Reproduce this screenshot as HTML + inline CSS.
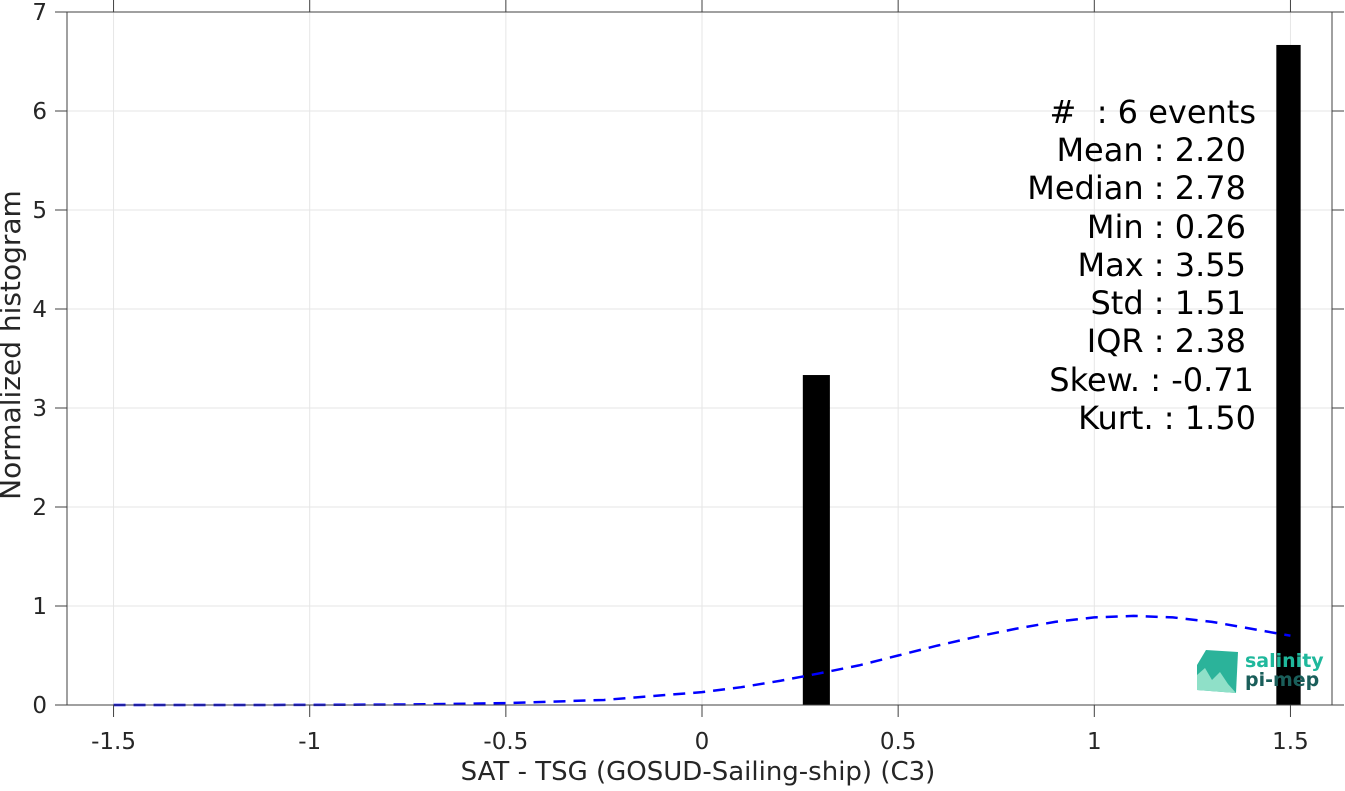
<!DOCTYPE html>
<html><head><meta charset="utf-8"><style>
body{margin:0;background:#fff;font-family:"DejaVu Sans","Liberation Sans",sans-serif}
</style></head><body>
<svg width="1345" height="787" xmlns="http://www.w3.org/2000/svg">
<g id="grid"></g>
<g id="bars"></g>
<g id="curve"></g>
<g id="axes"></g>
<g font-size="32" fill="#000" text-anchor="end">
<text x="1256" y="123">#&#160;&#160;: 6 events</text>
<text x="1246" y="161">Mean : 2.20</text>
<text x="1246" y="199">Median : 2.78</text>
<text x="1246" y="238">Min : 0.26</text>
<text x="1246" y="276">Max : 3.55</text>
<text x="1246" y="314">Std : 1.51</text>
<text x="1246" y="352">IQR : 2.38</text>
<text x="1254" y="391">Skew. : -0.71</text>
<text x="1256" y="429">Kurt. : 1.50</text>
</g>
<g>
<polygon points="1197,665 1206,650 1238,652 1236,693 1197,690" fill="#2bb39a"/>
<polygon points="1197,675 1205,668 1212,680 1220,672 1228,684 1236,693 1197,690" fill="#8fe0c8"/>
<text x="1245" y="667" font-size="19" font-weight="bold" fill="#1fb89c">salinity</text>
<text x="1245" y="686" font-size="19" font-weight="bold" fill="#1a5e5a">pi-mep</text>
</g>
<text x="698" y="780" font-size="26" fill="#262626" text-anchor="middle">SAT - TSG (GOSUD-Sailing-ship) (C3)</text>
<text transform="translate(20,345) rotate(-90)" font-size="28" fill="#262626" text-anchor="middle">Normalized histogram</text>
</svg>
<script>
const xTicks=[-1.5,-1,-0.5,0,0.5,1,1.5];
const xTickLabels=["-1.5","-1","-0.5","0","0.5","1","1.5"];
const yTicks=[0,1,2,3,4,5,6,7];
const barLeft=[0.257,1.464];
const barRight=[0.326,1.526];
const barHeight=[3.333,6.667];
const curveX=[-1.5,-1.25,-1,-0.75,-0.5,-0.25,0,0.1,0.2,0.3,0.4,0.5,0.6,0.7,0.8,0.9,1,1.1,1.2,1.3,1.4,1.5];
const curveY=[0.0,0.0,0.001,0.005,0.019,0.051,0.13,0.18,0.245,0.32,0.4,0.5,0.6,0.69,0.77,0.84,0.885,0.9,0.885,0.84,0.77,0.70];
const L=67,R=1332,T=12,B=705;
const X=v=>702+v*392.3;
const Y=v=>B-v*(B-T)/7;
const NS="http://www.w3.org/2000/svg";
function mk(p,t,a){const e=document.createElementNS(NS,t);for(const k in a)e.setAttribute(k,a[k]);p.appendChild(e);return e;}
const grid=document.getElementById('grid'),axes=document.getElementById('axes');
xTicks.forEach((v,i)=>{
 const g=mk(grid,'line',{x1:X(v),x2:X(v),y1:T,y2:B,stroke:'#e6e6e6'});
 
 
 const t=mk(axes,'line',{x1:X(v),x2:X(v),y1:B,y2:B+12,stroke:'#404040'});
 
 
 const tt=mk(axes,'line',{x1:X(v),x2:X(v),y1:T,y2:T-12,stroke:'#404040'});
 
 
 const l=mk(axes,'text',{x:X(v),y:B+44,'font-size':23,fill:'#262626','text-anchor':'middle'});
 l.textContent=xTickLabels[i];
 
 
});
yTicks.forEach(v=>{
 const g=mk(grid,'line',{x1:L,x2:R,y1:Y(v),y2:Y(v),stroke:'#e6e6e6'});
 
 
 const t=mk(axes,'line',{x1:L-12,x2:L,y1:Y(v),y2:Y(v),stroke:'#404040'});
 
 
 const tr=mk(axes,'line',{x1:R,x2:R+12,y1:Y(v),y2:Y(v),stroke:'#404040'});
 
 
 const l=mk(axes,'text',{x:L-20,y:Y(v)+8,'font-size':23,fill:'#262626','text-anchor':'end'});
 l.textContent=String(v);
 
 
});
const box=mk(axes,'rect',{x:L,y:T,width:R-L,height:B-T,fill:'none',stroke:'#404040'});


const bars=document.getElementById('bars');
barLeft.forEach((v,i)=>{
 const r=mk(bars,'rect',{x:X(v),y:Y(barHeight[i]),width:X(barRight[i])-X(v),height:B-Y(barHeight[i]),fill:'#000'});
 
 
});
const p=mk(document.getElementById('curve'),'polyline',{points:curveX.map((v,i)=>X(v)+','+Y(curveY[i])).join(' '),fill:'none',stroke:'#0000ff','stroke-width':2.5,'stroke-dasharray':'12,8'});


</script>
</body></html>
